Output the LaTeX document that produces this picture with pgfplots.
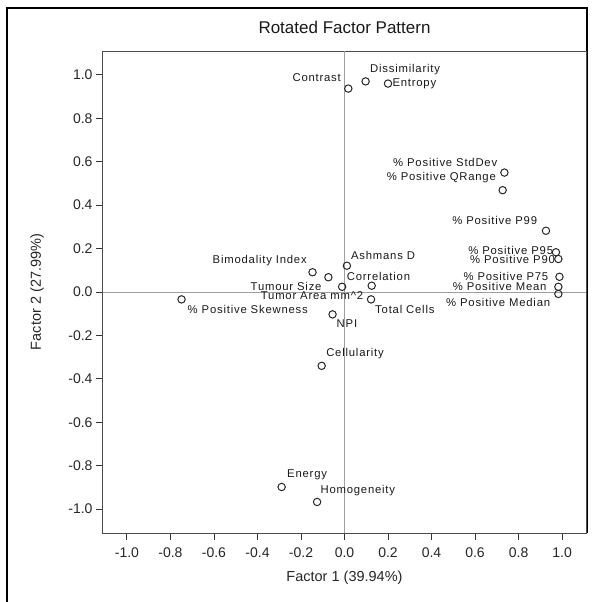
\documentclass[border=0pt]{standalone}
\usepackage{pgfplots}
\pgfplotsset{compat=1.18}
\usepackage{fontspec}
\setmainfont{Liberation Sans}
\newfontfamily\lblfont[LetterSpace=7]{Liberation Sans}

% factor loadings: Factor 1, Factor 2
\pgfplotstableread{
f1      f2
0.0175  0.937
0.097   0.970
0.200   0.960
0.735   0.550
0.727   0.469
0.926   0.282
0.972   0.183
0.983   0.152
0.988   0.070
0.983   0.024
0.983  -0.009
0.122  -0.034
0.125   0.029
0.011   0.121
-0.147  0.091
-0.074  0.068
-0.011  0.024
-0.749 -0.034
-0.055 -0.103
-0.105 -0.340
-0.289 -0.898
-0.126 -0.967
}\loadings

\tikzset{lbl/.style={inner sep=0pt, font=\lblfont\fontsize{11.3}{13}\selectfont, text=black!90}}
% label: x, y, anchor, dx, dy, text
\newcommand\lab[6]{\node[lbl,anchor=#3,xshift=#4pt,yshift=#5pt] at (axis cs:#1,#2) {#6};}

\begin{document}
\begin{tikzpicture}[x=1pt,y=1pt]
\useasboundingbox (0,0) rectangle (599,-602);
\draw[black,line width=1.5pt] (7,-602) -- (7,-8) -- (587,-8) -- (587,-533);
\begin{axis}[
  at={(103pt,-533pt)}, anchor=south west,
  scale only axis, width=483pt, height=482pt,
  xmin=-1.11, xmax=1.11, ymin=-1.11, ymax=1.11,
  xtick={-1,-0.8,...,1.01}, ytick={-1,-0.8,...,1.01},
  xtick pos=bottom, ytick pos=left,
  tick align=outside, major tick length=7pt,
  tick style={black!80, line width=0.9pt},
  axis line style={black!70, line width=1pt},
  /pgf/number format/assume math mode=true,
  /pgf/number format/.cd, fixed, fixed zerofill, precision=1, /pgfplots/.cd,
  ticklabel style={font=\fontsize{14}{16}\selectfont, text=black!85},
  xticklabel style={yshift=-4pt},
  title={Rotated Factor Pattern},
  title style={at={(axis description cs:0.5,1.037)}, anchor=center,
    font=\fontsize{17}{20}\selectfont, text=black!90},
  xlabel={Factor 1 (39.94\%)},
  xlabel style={at={(axis description cs:0.5,-0.093)}, anchor=center,
    font=\fontsize{14.5}{17}\selectfont, text=black!85},
  ylabel={Factor 2 (27.99\%)},
  ylabel style={at={(axis description cs:-0.1366,0.5)}, anchor=center,
    font=\fontsize{14.5}{17}\selectfont, text=black!85},
  clip=false,
]
\addplot[gray!75, line width=1pt, forget plot] coordinates {(0,-1.11) (0,1.11)};
\addplot[gray!75, line width=1pt, forget plot] coordinates {(-1.11,0) (1.11,0)};
\addplot[only marks, mark=o, mark size=3.7pt,
  mark options={line width=1pt, draw=black!85}] table[x=f1,y=f2] {\loadings};

\lab{0.0175}{0.937}{east}{-7.3}{10.6}{Contrast}
\lab{0.097}{0.970}{west}{4.4}{12}{Dissimilarity}
\lab{0.200}{0.960}{west}{4.3}{0}{Entropy}
\lab{0.735}{0.550}{east}{-7}{10.6}{\% Positive StdDev}
\lab{0.727}{0.469}{east}{-6.6}{12.3}{\% Positive QRange}
\lab{0.926}{0.282}{east}{-8.7}{10.7}{\% Positive P99}
\lab{0.972}{0.183}{east}{-2.7}{1.6}{\% Positive P95}
\lab{0.983}{0.152}{east}{-3.3}{0}{\% Positive P90}
\lab{0.988}{0.070}{east}{-11}{0}{\% Positive P75}
\lab{0.983}{0.024}{east}{-11.7}{0}{\% Positive Mean}
\lab{0.983}{-0.009}{east}{-8}{-8.7}{\% Positive Median}
\lab{0.122}{-0.034}{west}{4}{-10}{Total Cells}
\lab{0.125}{0.029}{west}{-25}{9.7}{Correlation}
\lab{0.011}{0.121}{west}{4}{10.7}{Ashmans D}
\lab{-0.147}{0.091}{east}{-5.6}{11.6}{Bimodality Index}
\lab{-0.074}{0.068}{east}{-6.7}{-9.4}{Tumour Size}
\lab{-0.011}{0.024}{east}{21.3}{-9.3}{Tumor Area mm\textasciicircum{}2}
\lab{-0.749}{-0.034}{west}{6}{-10}{\% Positive Skewness}
\lab{-0.055}{-0.103}{west}{4}{-9}{NPI}
\lab{-0.105}{-0.340}{west}{4.4}{12.7}{Cellularity}
\lab{-0.289}{-0.898}{west}{5.4}{12.3}{Energy}
\lab{-0.126}{-0.967}{west}{3.3}{11.6}{Homogeneity}
\end{axis}
\end{tikzpicture}
\end{document}
